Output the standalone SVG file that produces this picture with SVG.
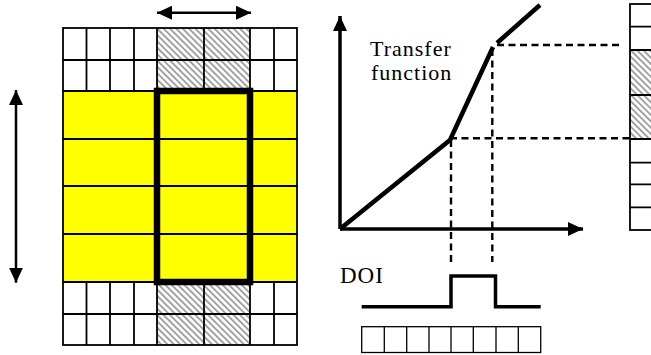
<svg xmlns="http://www.w3.org/2000/svg" width="651" height="355" viewBox="0 0 651 355">
<defs>
<pattern id="hatch" patternUnits="userSpaceOnUse" width="4.5" height="4.5" patternTransform="rotate(-45)">
<rect width="4.5" height="4.5" fill="#fff"/>
<rect width="1.9" height="4.5" fill="#a0a0a0"/>
</pattern>
<marker id="ah" viewBox="0 0 15 14" refX="15" refY="7" markerWidth="15" markerHeight="14" markerUnits="userSpaceOnUse" orient="auto-start-reverse">
<path d="M0,0 L15,7 L0,14 Z" fill="#000"/>
</marker>
</defs>
<style>
.g{fill:none;stroke:#000;stroke-width:1.8}
.gt{fill:none;stroke:#000;stroke-width:1.3}
.dash{fill:none;stroke:#000;stroke-width:2.4;stroke-dasharray:7 4.5}
.thick{fill:none;stroke:#000;stroke-width:4.5;stroke-linejoin:miter}
.ax{fill:none;stroke:#000;stroke-width:3.5}
.t{font-family:'Liberation Serif','Times New Roman',serif;font-size:22px;letter-spacing:1px;fill:#000}
</style>
<rect width="651" height="355" fill="#fff"/>

<g id="image-grid">
<rect x="63" y="91" width="234" height="191" fill="#ffff00"/>
<rect x="157" y="28" width="93" height="63" fill="url(#hatch)"/>
<rect x="157" y="282" width="93" height="63" fill="url(#hatch)"/>
<rect x="63" y="28" width="234" height="317" class="g"/>
<path class="g" d="M63,60H297M63,91H297M63,139H297M63,186H297M63,234H297M63,282H297M63,314H297"/>
<path class="g" d="M86.5,28V91M110,28V91M134,28V91M157,28V91M204,28V91M250,28V91M274,28V91"/>
<path class="g" d="M86.5,282V345M110,282V345M134,282V345M157,282V345M204,282V345M250,282V345M274,282V345"/>
<rect x="157" y="91" width="93" height="191" fill="none" stroke="#000" stroke-width="6.5"/>
</g>

<g id="right-grid">
<rect x="630" y="50" width="30" height="89" fill="url(#hatch)"/>
<rect x="630" y="4" width="30" height="226" class="g"/>
<path class="g" d="M630,26.7H651M630,50H651M630,95H651M630,139H651M630,162.7H651M630,184.3H651M630,207.3H651"/>
</g>

<g id="transfer-plot">
<path class="ax" d="M340,229V16" marker-end="url(#ah)"/>
<path class="ax" d="M340,229H583" marker-end="url(#ah)"/>
<path class="thick" d="M340,229L450,140L493,47"/>
<path class="thick" d="M497,43L540,5"/>
<text class="t" x="370" y="55.5">Transfer</text>
<text class="t" x="371" y="80">function</text>
</g>

<g id="doi">
<text class="t" x="340" y="282.5" style="font-size:23px">DOI</text>
<path class="ax" d="M361.7,306.7H451V276H495.5V306.7H540.7"/>
<rect x="361.7" y="326.7" width="179" height="25.8" class="gt"/>
<path class="gt" d="M384.3,326.7V352.5M406.7,326.7V352.5M429,326.7V352.5M451,326.7V352.5M473.3,326.7V352.5M496,326.7V352.5M518.3,326.7V352.5"/>
</g>

<g id="connectors">
<path class="dash" d="M497,45H620"/>
<path class="dash" d="M450,138.3H630"/>
<path class="dash" d="M451,140V262"/>
<path class="dash" d="M492.3,49V262"/>
<path d="M157,12.7H251" stroke="#000" stroke-width="2.5" marker-start="url(#ah)" marker-end="url(#ah)"/>
<path d="M16,90V282.7" stroke="#000" stroke-width="2.5" marker-start="url(#ah)" marker-end="url(#ah)"/>
</g>
</svg>
